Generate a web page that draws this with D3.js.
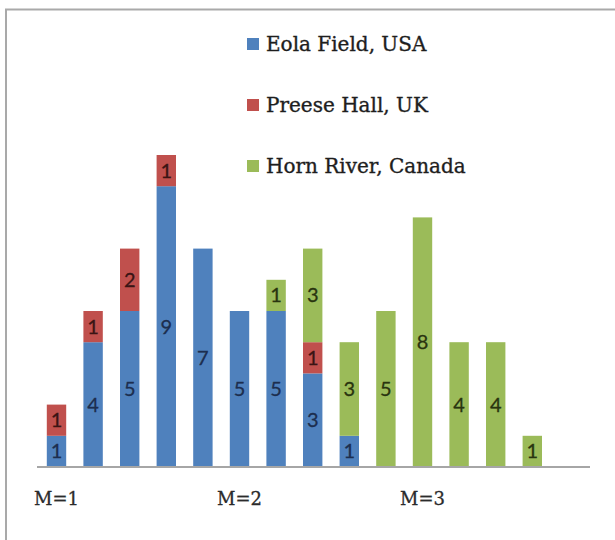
<!DOCTYPE html>
<html>
<head>
<meta charset="utf-8">
<script src="https://cdn.jsdelivr.net/npm/d3@7/dist/d3.min.js"></script>
<style>
  body { margin: 0; background: #fff; }
  svg { display: block; }
</style>
</head>
<body>
<div id="chart"></div>
<script>
// chart values
var bars = ["b1", "b2", "b3", "b4", "b5", "b6", "b7", "b8", "b9", "b10", "b11", "b12", "b13", "b14"];
var seriesNames = ["Eola Field, USA", "Preese Hall, UK", "Horn River, Canada"];
var eola   = [1, 4, 5, 9, 7, 5, 5, 3, 1, 0, 0, 0, 0, 0];
var preese = [1, 1, 2, 1, 0, 0, 0, 1, 0, 0, 0, 0, 0, 0];
var horn   = [0, 0, 0, 0, 0, 0, 1, 3, 3, 5, 8, 4, 4, 1];
var tickLabels = ["M=1", "M=2", "M=3"];
var tickBars = ["b1", "b6", "b11"];

var colors = ["#4f81bd", "#c0504d", "#9bbb59"];
var labelColors = ["#1c2e4f", "#3a1414", "#29340f"];

var width = 615, height = 540;

var svg = d3.select("#chart").append("svg")
    .attr("width", width)
    .attr("height", height);

// outer frame (top + left edges visible in the crop)
svg.append("path")
    .attr("d", "M6,540 V9.5 H615")
    .attr("fill", "none")
    .attr("stroke", "#a9a9a9")
    .attr("stroke-width", 2);

// build table for the stack
var table = bars.map(function (b, i) {
    return {bar: b, s0: eola[i], s1: preese[i], s2: horn[i]};
});
var stacked = d3.stack().keys(["s0", "s1", "s2"])(table);

var x = d3.scaleBand()
    .domain(bars)
    .range([38.2, 550.6])
    .paddingInner(0.47)
    .paddingOuter(0.235);

var y = d3.scaleLinear()
    .domain([0, 10])
    .range([467, 155]);

// bars
var layers = svg.append("g").attr("class", "bars")
    .selectAll("g")
    .data(stacked)
    .enter().append("g")
    .attr("fill", function (d, i) { return colors[i]; });

layers.selectAll("rect")
    .data(function (d) { return d; })
    .enter().append("rect")
    .filter(function (d) { return d[1] - d[0] > 0; })
    .attr("x", function (d) { return x(d.data.bar); })
    .attr("y", function (d) { return y(d[1]); })
    .attr("width", x.bandwidth())
    .attr("height", function (d) { return y(d[0]) - y(d[1]); });

// segment labels
stacked.forEach(function (layer, i) {
    svg.append("g")
        .selectAll("text")
        .data(layer.filter(function (d) { return d[1] - d[0] > 0; }))
        .enter().append("text")
        .attr("x", function (d) { return x(d.data.bar) + x.bandwidth() / 2; })
        .attr("y", function (d) { return (y(d[0]) + y(d[1])) / 2 + 7; })
        .attr("text-anchor", "middle")
        .attr("font-family", "Lato, 'Open Sans', sans-serif")
        .attr("font-size", 20)
        .attr("fill", labelColors[i])
        .attr("stroke", labelColors[i])
        .attr("stroke-width", 0.3)
        .text(function (d) { return d[1] - d[0]; });
});

// category axis
var xAxis = d3.axisBottom(x)
    .tickValues(tickBars)
    .tickSize(0)
    .tickPadding(25)
    .tickFormat(function (d, i) { return tickLabels[i]; });

var axisG = svg.append("g")
    .attr("transform", "translate(0," + y(0) + ")")
    .call(xAxis);

axisG.select(".domain").remove();
axisG.append("line")
    .attr("x1", 37).attr("x2", 590)
    .attr("y1", 0).attr("y2", 0)
    .attr("stroke", "#a6a6a6")
    .attr("stroke-width", 2);

axisG.selectAll(".tick text")
    .attr("font-family", "'DejaVu Serif', serif")
    .attr("font-size", 18)
    .attr("fill", "#2b2b2b")
    .attr("stroke", "#2b2b2b")
    .attr("stroke-width", 0.3);

// legend
var legend = svg.append("g")
    .selectAll("g")
    .data(seriesNames)
    .enter().append("g")
    .attr("transform", function (d, i) { return "translate(247," + (38 + i * 61) + ")"; });

legend.append("rect")
    .attr("width", 12)
    .attr("height", 12)
    .attr("fill", function (d, i) { return colors[i]; });

legend.append("text")
    .attr("x", 19)
    .attr("y", 13)
    .attr("font-family", "'DejaVu Serif', serif")
    .attr("font-size", 20)
    .attr("fill", "#1e1e1e")
    .attr("stroke", "#1e1e1e")
    .attr("stroke-width", 0.35)
    .text(function (d) { return d; });
</script>
</body>
</html>
